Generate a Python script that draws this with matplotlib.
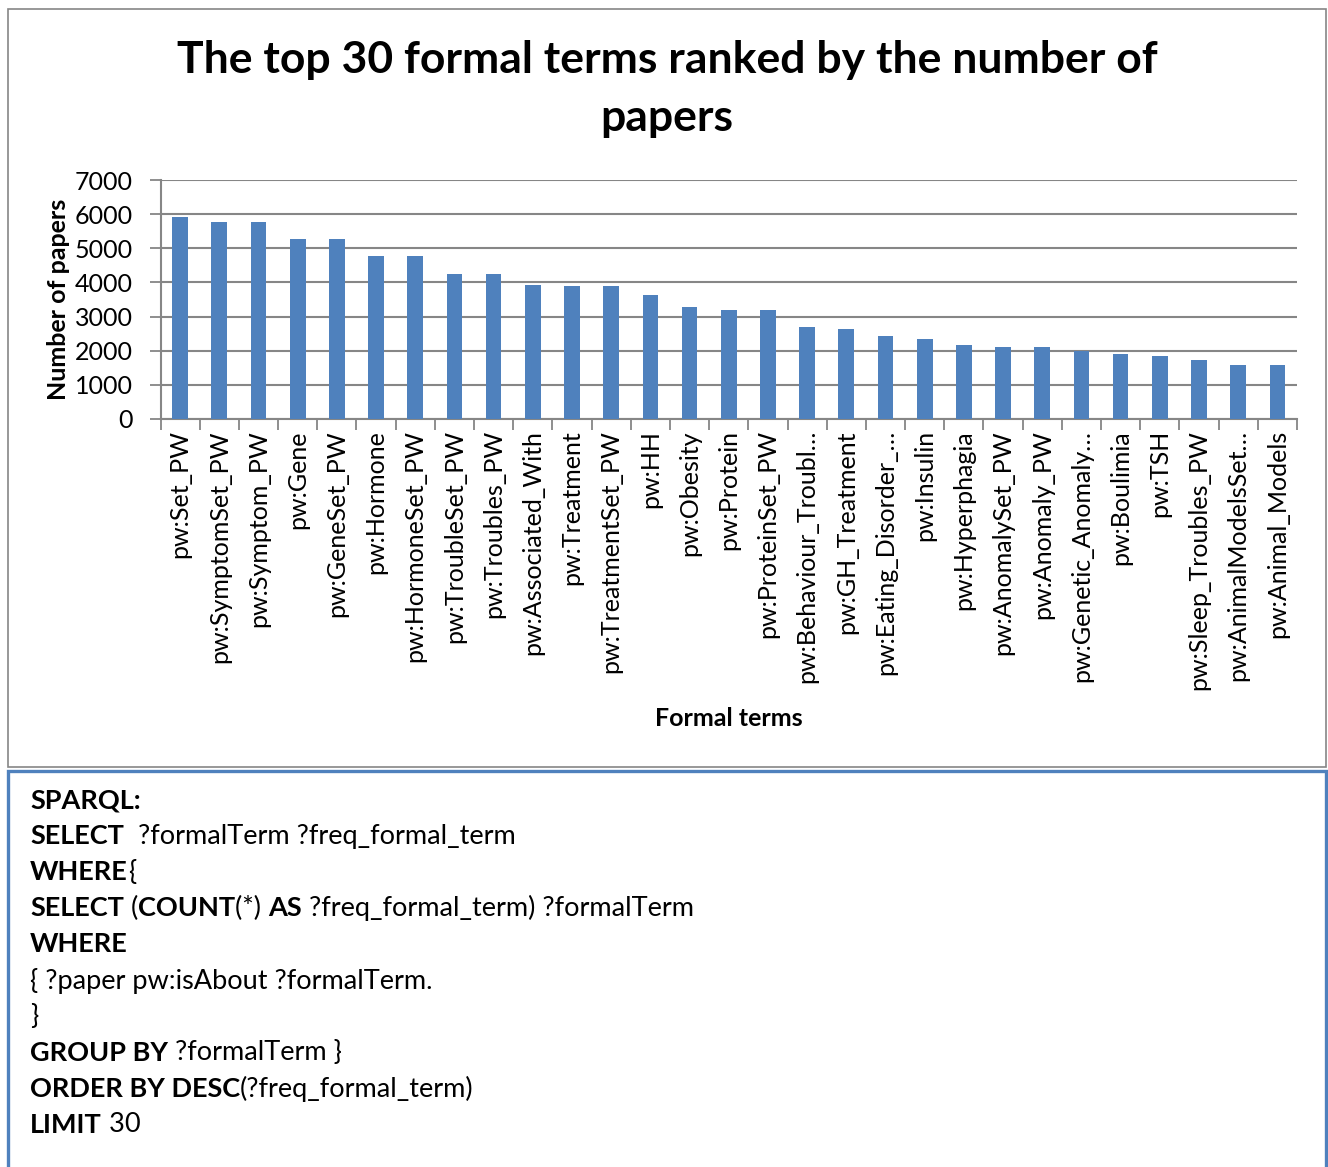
import matplotlib
matplotlib.use("Agg")
import matplotlib.pyplot as plt
from matplotlib.patches import Rectangle
import numpy as np

plt.rcParams['font.family'] = ['Lato', 'DejaVu Sans']

# Formal terms and their paper counts
terms = [
    "pw:Set_PW", "pw:SymptomSet_PW", "pw:Symptom_PW", "pw:Gene", "pw:GeneSet_PW",
    "pw:Hormone", "pw:HormoneSet_PW", "pw:TroubleSet_PW", "pw:Troubles_PW",
    "pw:Associated_With", "pw:Treatment", "pw:TreatmentSet_PW", "pw:HH",
    "pw:Obesity", "pw:Protein", "pw:ProteinSet_PW", "pw:Behaviour_Troubl\u2026",
    "pw:GH_Treatment", "pw:Eating_Disorder_\u2026", "pw:Insulin", "pw:Hyperphagia",
    "pw:AnomalySet_PW", "pw:Anomaly_PW", "pw:Genetic_Anomaly\u2026", "pw:Boulimia",
    "pw:TSH", "pw:Sleep_Troubles_PW", "pw:AnimalModelsSet\u2026", "pw:Animal_Models",
]
paper_counts = [
    5930, 5765, 5765, 5260, 5260, 4760, 4760, 4235, 4235, 3920, 3910, 3910,
    3625, 3275, 3190, 3190, 2690, 2650, 2435, 2335, 2180, 2110, 2110, 1995,
    1890, 1850, 1720, 1595, 1595,
]
y_ticks = [0, 1000, 2000, 3000, 4000, 5000, 6000, 7000]

# SPARQL query lines as (text, bold) segments
query_lines = [
    [("SPARQL:", True)],
    [("SELECT", True), ("  ?formalTerm ?freq_formal_term", False)],
    [("WHERE", True), ("{", False)],
    [("SELECT", True), (" (", False), ("COUNT", True), ("(*) ", False), ("AS", True),
     (" ?freq_formal_term) ?formalTerm", False)],
    [("WHERE", True)],
    [("{ ?paper pw:isAbout ?formalTerm.", False)],
    [("}", False)],
    [("GROUP BY", True), (" ?formalTerm }", False)],
    [("ORDER BY DESC", True), ("(?freq_formal_term)", False)],
    [("LIMIT", True), (" 30", False)],
]

W, H = 1328, 1167
fig = plt.figure(figsize=(W / 100, H / 100), dpi=100)
fig.patch.set_facecolor("white")

grid_col = "#868686"
bar_col = "#4F81BD"

# outer chart frame and query box
fig.add_artist(Rectangle((8 / W, 1 - 767 / H), 1318 / W, 758 / H, transform=fig.transFigure,
                         fill=False, edgecolor=grid_col, linewidth=1.2))
fig.add_artist(Rectangle((8 / W, -0.01), 1318 / W, (1 - 771 / H) + 0.01, transform=fig.transFigure,
                         fill=False, edgecolor=bar_col, linewidth=2.4))

ax = fig.add_axes([160.5 / W, 1 - 419 / H, (1297 - 160.5) / W, (419 - 180) / H])
x = np.arange(len(terms))
ax.bar(x, paper_counts, width=0.4, color=bar_col, zorder=3)

ax.set_xlim(-0.5, len(terms) - 0.5)
ax.set_ylim(0, 7000)
ax.set_yticks(y_ticks)
ax.set_yticklabels([str(v) for v in y_ticks], fontsize=18)
ax.yaxis.grid(True, color=grid_col, linewidth=1.5, zorder=0)
ax.set_axisbelow(True)

ax.set_xticks(x)
ax.set_xticklabels(terms, rotation=90, fontsize=18)
ax.set_xticks(np.arange(len(terms) + 1) - 0.5, minor=True)
ax.tick_params(axis='x', which='major', length=0, pad=8)
ax.tick_params(axis='x', which='minor', length=8, width=1.3, color=grid_col, direction='out')
ax.tick_params(axis='y', length=8, width=1.3, color=grid_col, direction='out', pad=12)

for side in ("top", "right"):
    ax.spines[side].set_visible(False)
for side in ("left", "bottom"):
    ax.spines[side].set_color(grid_col)
    ax.spines[side].set_linewidth(1.5)

fig.text(58 / W, 1 - 299 / H, "Number of papers", rotation=90, fontsize=18,
         fontweight="bold", ha="center", va="center")
fig.text(729 / W, 1 - 718 / H, "Formal terms", fontsize=18, fontweight="bold",
         ha="center", va="center")
fig.text(667 / W, 1 - 89 / H, "The top 30 formal terms ranked by the number of\npapers",
         fontsize=32, fontweight="bold", ha="center", va="center", linespacing=1.52)

# query text, laid out segment by segment
fig.canvas.draw()
renderer = fig.canvas.get_renderer()


def seg_width(s, bold, size):
    probe = fig.text(0, 0, s + "|", fontsize=size, fontweight="bold" if bold else "normal")
    bar = fig.text(0, 0, "|", fontsize=size, fontweight="bold" if bold else "normal")
    w = probe.get_window_extent(renderer).width - bar.get_window_extent(renderer).width
    probe.remove()
    bar.remove()
    return w


q_size = 19.5
for i, line in enumerate(query_lines):
    y_px = 800 + i * 36.1
    x_px = 30.0
    for s, bold in line:
        fig.text(x_px / W, 1 - y_px / H, s, fontsize=q_size,
                 fontweight="bold" if bold else "normal", ha="left", va="center")
        x_px += seg_width(s, bold, q_size)

fig.savefig("out.png", dpi=100)
